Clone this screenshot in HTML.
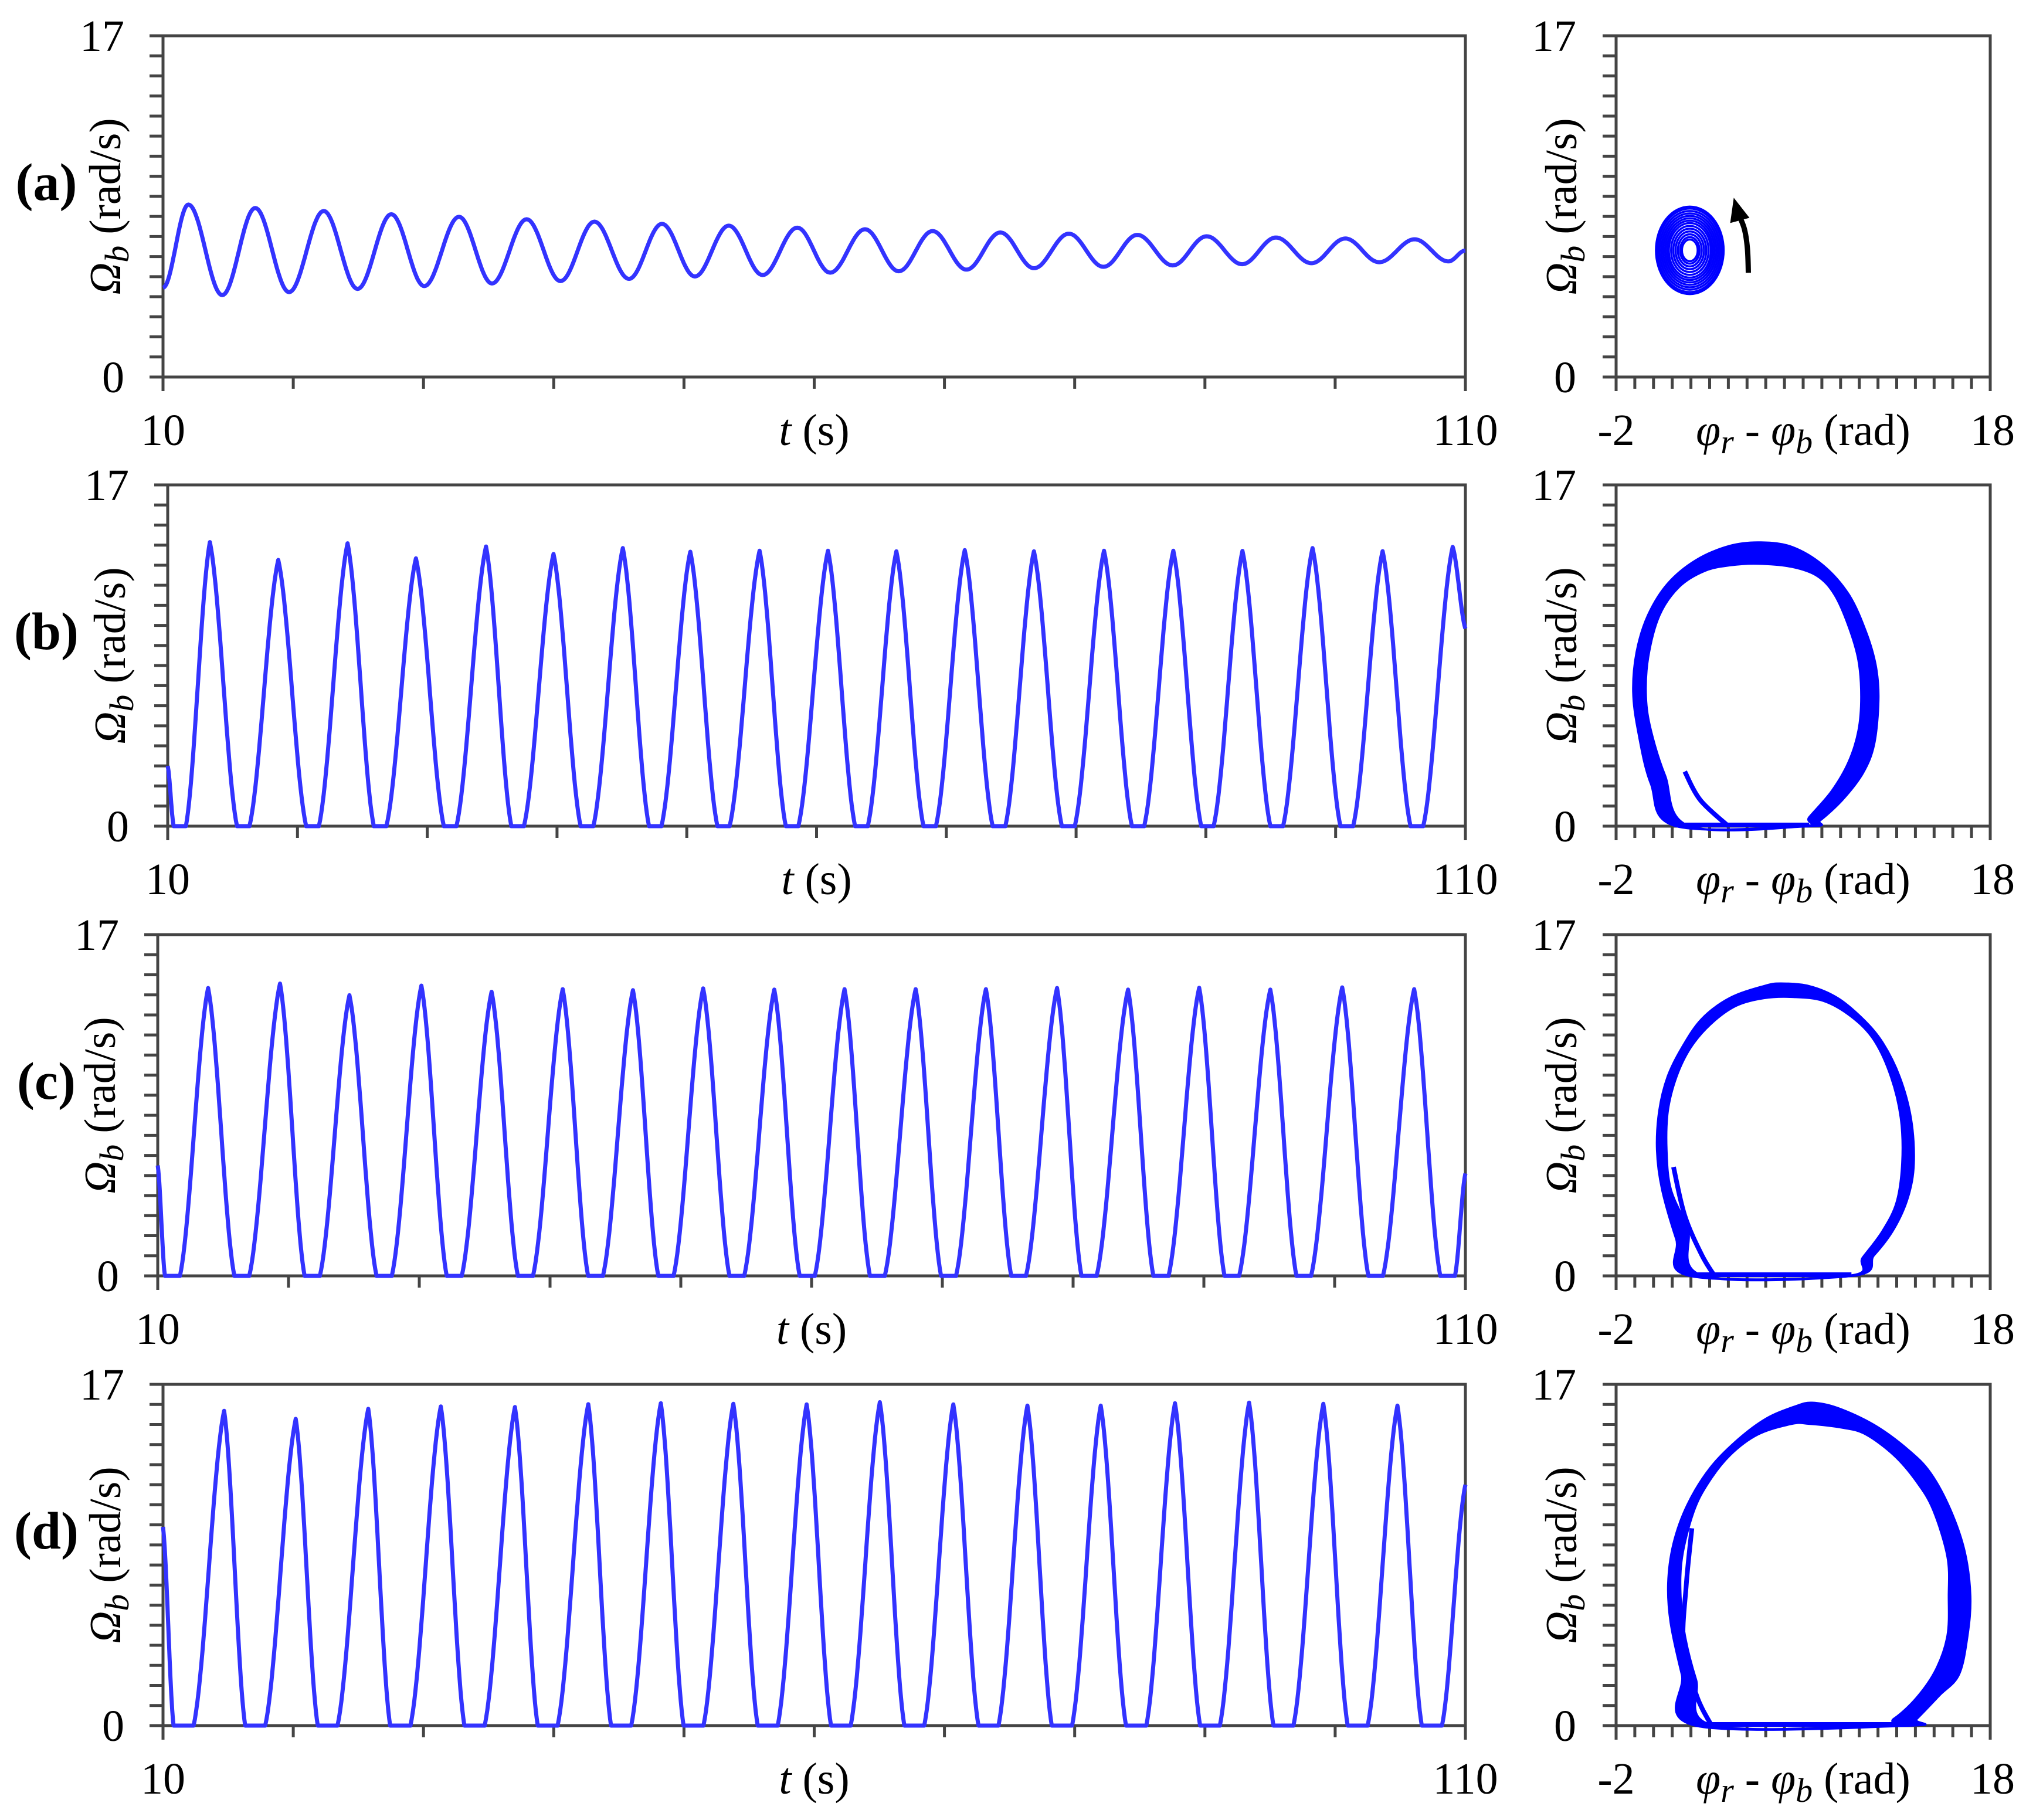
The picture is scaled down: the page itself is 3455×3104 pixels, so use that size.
<!DOCTYPE html>
<html><head><meta charset="utf-8"><style>
html,body{margin:0;padding:0;background:#fff}
svg text{font-family:"Liberation Serif","Times New Roman",serif;fill:#000}
</style></head><body>
<svg id="fig" xmlns="http://www.w3.org/2000/svg" width="3455" height="3099" viewBox="0 0 3455 3099" font-family="Liberation Serif, serif">
<rect width="3455" height="3099" fill="#fff"/>
</svg>
<script>
// ---- (a) damped oscillation ----
const aStart = 4.45, aEnd = 6.3;
const aPeakT = [11.95,17.08,22.34,27.53,32.73,37.92,43.12,48.31,53.44,58.7,63.9,69.09,74.29,79.55,84.81,90.13,95.45,100.78,106.1];
const aPeakV = [8.59,8.42,8.27,8.11,7.98,7.86,7.74,7.63,7.54,7.44,7.36,7.27,7.2,7.14,7.08,7.01,6.95,6.9,6.86];
const aTroughT = [14.55,19.68,24.94,30.06,35.26,40.52,45.78,50.84,56.04,61.23,66.49,71.69,76.88,82.21,87.53,92.86,98.18,103.38,108.7];
const aTroughV = [4.08,4.23,4.39,4.53,4.66,4.78,4.89,5.01,5.08,5.2,5.27,5.35,5.42,5.49,5.56,5.62,5.67,5.72,5.76];
// ---- (b) ----
const bStart = 3.0, bEnd = 9.84;
const bZeroStart = [10.46,15.34,20.67,25.88,31.28,36.48,41.82,47.09,52.36,57.63,62.97,68.24,73.57,78.9,84.3,89.64,94.97,100.37,105.77];
const bZeroEnd = [11.4,16.3,21.65,26.85,32.25,37.45,42.8,48.05,53.3,58.6,63.95,69.2,74.55,79.9,85.25,90.6,95.95,101.35,106.75];
const bPeakT = [13.25,18.52,23.86,29.13,34.53,39.73,45.07,50.27,55.61,60.88,66.15,71.42,76.75,82.15,87.49,92.82,98.22,103.62,109.02];
const bPeakV = [14.15,13.26,14.09,13.34,13.93,13.56,13.85,13.67,13.72,13.72,13.69,13.75,13.69,13.72,13.72,13.71,13.85,13.7,13.91];
// ---- (c) ----
const cStart = 5.5, cEnd = 5.1;
const cZeroStart = [10.55,15.86,21.23,26.73,32.1,37.54,42.91,48.28,53.72,59.09,64.46,69.9,75.27,80.64,86.14,91.58,97.08,102.58,108.08];
const cZeroEnd = [11.7,17.0,22.4,27.9,33.25,38.7,44.05,49.45,54.85,60.25,65.6,71.05,76.4,81.8,87.3,92.7,98.2,103.7,109.2];
const cPeakT = [13.85,19.35,24.66,30.16,35.53,40.97,46.34,51.71,57.15,62.52,67.96,73.33,78.77,84.2,89.64,95.08,100.58,106.08];
const cPeakV = [14.34,14.56,13.98,14.46,14.15,14.28,14.23,14.32,14.26,14.28,14.28,14.28,14.34,14.26,14.35,14.26,14.37,14.28];
// ---- (d) ----
const dStart = 9.9, dEnd = 12.0;
const dZeroStart = [10.81,16.31,21.88,27.44,33.14,38.77,44.4,49.97,55.66,61.29,66.92,72.61,78.24,83.94,89.63,95.26,100.96,106.65];
const dZeroEnd = [12.35,17.85,23.4,29.0,34.7,40.3,45.95,51.5,57.2,62.8,68.45,74.15,79.8,85.5,91.15,96.8,102.5,108.2];
const dPeakT = [14.69,20.19,25.76,31.33,37.02,42.65,48.22,53.79,59.42,65.04,70.68,76.37,82.0,87.7,93.39,99.09,104.78];
const dPeakV = [15.68,15.28,15.78,15.9,15.87,16.01,16.06,16.03,16.0,16.11,16.0,15.94,15.94,16.06,16.09,16.03,15.94];
// ---- phase portraits ----
const paCenter = [1.94, 6.31];
const paRingRx = [1.81,1.72,1.62,1.52,1.42,1.32,1.22,1.12,1.0,0.88,0.76,0.64,0.52,0.42];
const paRingRy = [2.18,2.08,1.96,1.84,1.72,1.6,1.48,1.36,1.22,1.08,0.94,0.8,0.66,0.54];
const paArrowX = [5.07,5.02,4.85,4.5];
const paArrowY = [5.19,6.4,7.4,8.2];
const paArrowTip = [4.29,8.93];
const pbOuterX = [1.22,-0.14,-0.82,-1.08,-0.9,-0.29,0.76,2.27,4.09,5.75,7.41,9.07,10.43,11.34,11.87,12.02,11.79,11.19,10.13,8.92,8.32];
const pbOuterY = [0,2.13,4.75,6.71,8.67,10.5,12.07,13.24,13.96,14.13,13.9,12.98,11.54,9.71,8.01,6.31,4.09,2.65,1.35,0.3,0];
const pbInnerX = [1.9,0.61,-0.14,-0.41,-0.29,0.31,1.37,2.73,4.09,5.6,7.41,8.77,9.68,10.43,10.96,11.11,10.96,10.43,9.53,8.32,8.02];
const pbInnerY = [0,2.52,4.75,6.44,8.41,10.5,11.93,12.72,13.0,13.08,12.92,12.46,11.54,9.97,8.27,6.44,4.75,3.18,1.74,0.43,0];
const pbTailX = [1.67,2.5,4.0];
const pbTailY = [2.72,1.3,0];
const pcOuterX = [1.97,1.22,0.46,0.19,0.31,0.76,1.52,2.58,4.09,5.9,6.81,8.32,9.83,11.19,12.24,13.15,13.76,13.91,13.6,12.85,11.79,10.58];
const pcOuterY = [0,1.83,4.31,6.27,8.22,9.92,11.36,12.79,13.84,14.43,14.56,14.43,13.84,12.79,11.62,9.92,7.83,5.61,3.92,2.35,1.04,0];
const pcInnerX = [2.65,1.82,0.92,0.69,0.76,1.22,1.97,3.03,4.39,5.9,7.41,9.07,10.58,11.79,12.7,13.23,13.3,13.0,12.24,11.19,10.43];
const pcInnerY = [0,2.35,4.31,6.27,8.22,9.92,11.36,12.53,13.45,13.84,13.9,13.71,12.92,11.75,9.92,7.83,5.61,3.66,2.22,0.91,0];
const pcTailX = [1.07,1.67,2.58,3.26];
const pcTailY = [5.42,3.0,1.04,0];
const pdOuterX = [2.27,1.52,0.92,0.79,1.07,1.82,3.03,4.54,6.05,7.56,8.47,9.83,11.79,13.6,14.81,15.87,16.63,16.93,16.78,16.32,15.27,14.06,13.6];
const pdOuterY = [0,2.54,5.14,7.1,9.05,11.0,12.83,14.26,15.3,15.89,16.08,15.82,14.97,13.74,12.57,10.74,8.66,6.45,4.49,2.54,1.5,0.33,0];
const pdInnerX = [3.18,2.27,1.67,1.44,1.52,2.12,2.88,4.09,5.6,7.41,8.32,10.13,11.34,12.85,14.06,14.96,15.72,15.79,15.72,15.11,14.06,12.85,11.94];
const pdInnerY = [0,2.28,4.49,6.45,8.4,10.61,12.04,13.48,14.52,15.04,15.04,14.84,14.52,13.48,12.17,10.74,8.4,6.45,4.49,2.8,1.37,0.33,0];
const pdTailX = [2.05,1.75,1.6,2.3,3.1];
const pdTailY = [9.83,7.0,4.0,1.5,0];

const NS = "http://www.w3.org/2000/svg";
const svg = document.getElementById('fig');
const FONT = '"Liberation Serif", "Times New Roman", serif';
function mk(tag, attrs, parent){
  const e = document.createElementNS(NS, tag);
  for (const k in attrs) e.setAttribute(k, attrs[k]);
  if (tag === 'text') e.style.fontFamily = FONT;
  (parent||svg).appendChild(e);
  return e;
}
const AX = "#444";
const FS = 76;
const rowTops = [61, 827, 1594, 2361];
const rowH = 582;
const leftX0 = [278, 286, 269, 278];
const leftX1 = 2499;
const rX0 = 2756, rX1 = 3394;
const letters = ['(a)','(b)','(c)','(d)'];

function sx(x0,x1,d0,d1){ return v => x0 + (v-d0)/(d1-d0)*(x1-x0); }

function ylabel(g, cx, cy){
  const t = mk('text', {x:0, y:0, 'font-size':FS, 'text-anchor':'middle', transform:`translate(${cx},${cy}) rotate(-90)`}, g);
  
  
  const a = mk('tspan', {'font-style':'italic'}, t); a.textContent = 'Ω';
  const b = mk('tspan', {'font-style':'italic', dy:14, 'font-size':58}, t); b.textContent = 'b';
  const c = mk('tspan', {dy:-14}, t); c.textContent = ' (rad/s)';
}

function frame(g, x0, x1, top, bot, xticks, name){
  const f = mk('rect', {x:x0, y:top, width:x1-x0, height:bot-top, fill:'none', stroke:AX, 'stroke-width':5}, g);
  
  
  mk('line', {x1:x0-23, y1:top, x2:x0, y2:top, stroke:AX, 'stroke-width':5}, g);
  mk('line', {x1:x0-23, y1:bot, x2:x0, y2:bot, stroke:AX, 'stroke-width':5}, g);
  mk('line', {x1:x0, y1:bot, x2:x0, y2:bot+24, stroke:AX, 'stroke-width':5}, g);
  mk('line', {x1:x1, y1:bot, x2:x1, y2:bot+24, stroke:AX, 'stroke-width':5}, g);
  for (let i=1;i<17;i++){
    const y = bot - i*(bot-top)/17;
    mk('line', {x1:x0-23, y1:y, x2:x0, y2:y, stroke:AX, 'stroke-width':5}, g);
  }
  xticks.forEach(x => mk('line', {x1:x, y1:bot, x2:x, y2:bot+20, stroke:AX, 'stroke-width':5}, g));
}

function textAt(g, x, y, str, anchor, name){
  const t = mk('text', {x:x, y:y, 'font-size':FS, 'text-anchor':anchor||'middle'}, g);
  
  
  t.textContent = str;
  return t;
}

function seriesKeys(start, end, zs, ze, pt, pv){
  const k = [[10,start]];
  for (let i=0;i<zs.length;i++){
    k.push([zs[i],0]); k.push([ze[i],0]);
    if (i<pt.length) k.push([pt[i],pv[i]]);
  }
  k.push([110,end]);
  return k;
}
function oscKeys(start, end, ptT, ptV, trT, trV){
  const k = [[10,start]];
  for (let i=0;i<ptT.length;i++){ k.push([ptT[i],ptV[i]]); k.push([trT[i],trV[i]]); }
  k.push([110,end]);
  return k;
}
function easePath(keys, X, Y, mix){
  let d = `M${X(keys[0][0]).toFixed(1)},${Y(keys[0][1]).toFixed(1)}`;
  for (let i=1;i<keys.length;i++){
    const [t0,v0] = keys[i-1], [t1,v1] = keys[i];
    const n = 24;
    for (let j=1;j<=n;j++){
      const u = j/n;
      const t = t0 + (t1-t0)*u;
      const e = mix*u + (1-mix)*(1-Math.cos(Math.PI*u))/2;
      const v = (v0===0 && v1===0) ? 0 : v0 + (v1-v0)*e;
      d += `L${X(t).toFixed(1)},${Y(v).toFixed(1)}`;
    }
  }
  return d;
}
function smoothClosed(xs, ys, X, Y){
  const P = xs.map((x,i)=>[X(x),Y(ys[i])]);
  const n = P.length;
  let d = `M${P[0][0].toFixed(1)},${P[0][1].toFixed(1)}`;
  for (let i=0;i<n;i++){
    const p0=P[(i-1+n)%n], p1=P[i], p2=P[(i+1)%n], p3=P[(i+2)%n];
    const c1=[p1[0]+(p2[0]-p0[0])/6, p1[1]+(p2[1]-p0[1])/6];
    const c2=[p2[0]-(p3[0]-p1[0])/6, p2[1]-(p3[1]-p1[1])/6];
    d += `C${c1[0].toFixed(1)},${c1[1].toFixed(1)} ${c2[0].toFixed(1)},${c2[1].toFixed(1)} ${p2[0].toFixed(1)},${p2[1].toFixed(1)}`;
  }
  return d + 'Z';
}
function smoothOpen(xs, ys, X, Y){
  const P = xs.map((x,i)=>[X(x),Y(ys[i])]);
  let d = `M${P[0][0].toFixed(1)},${P[0][1].toFixed(1)}`;
  for (let i=0;i<P.length-1;i++){
    const p0=P[Math.max(i-1,0)], p1=P[i], p2=P[i+1], p3=P[Math.min(i+2,P.length-1)];
    const c1=[p1[0]+(p2[0]-p0[0])/6, p1[1]+(p2[1]-p0[1])/6];
    const c2=[p2[0]-(p3[0]-p1[0])/6, p2[1]-(p3[1]-p1[1])/6];
    d += `C${c1[0].toFixed(1)},${c1[1].toFixed(1)} ${c2[0].toFixed(1)},${c2[1].toFixed(1)} ${p2[0].toFixed(1)},${p2[1].toFixed(1)}`;
  }
  return d;
}

const tsKeys = [
  oscKeys(aStart,aEnd,aPeakT,aPeakV,aTroughT,aTroughV),
  seriesKeys(bStart,bEnd,bZeroStart,bZeroEnd,bPeakT,bPeakV),
  seriesKeys(cStart,cEnd,cZeroStart,cZeroEnd,cPeakT,cPeakV),
  seriesKeys(dStart,dEnd,dZeroStart,dZeroEnd,dPeakT,dPeakV)
];
const loops = [null,
  [pbOuterX,pbOuterY,pbInnerX,pbInnerY,pbTailX,pbTailY],
  [pcOuterX,pcOuterY,pcInnerX,pcInnerY,pcTailX,pcTailY],
  [pdOuterX,pdOuterY,pdInnerX,pdInnerY,pdTailX,pdTailY]];

for (let r=0;r<4;r++){
  const top = rowTops[r], bot = top + rowH;
  const x0 = leftX0[r];
  const key = 'abcd'[r];
  const gl = mk('g', {});
  
  
  const X = sx(x0, leftX1, 10, 110), Y = sx(bot, top, 0, 17);
  const xt = []; for (let t=20;t<110;t+=10) xt.push(X(t));
  frame(gl, x0, leftX1, top, bot, xt, 'time-series-' + key);
  const p = mk('path', {d:easePath(tsKeys[r], X, Y, r===0?0:0.45), fill:'none', stroke:'#3333ff', 'stroke-width':7, 'stroke-linejoin':'round'}, gl);
  
  
  textAt(gl, x0-66, top+26, '17', 'end', 'y-tick-17');
  textAt(gl, x0-66, bot+26, '0', 'end', 'y-tick-0');
  textAt(gl, x0, bot+116, '10', 'middle', 'x-tick-10');
  textAt(gl, leftX1, bot+116, '110', 'middle', 'x-tick-110');
  const tl = textAt(gl, (x0+leftX1)/2, bot+116, '', 'middle', 'x-axis-title');
  const ti = mk('tspan', {'font-style':'italic'}, tl); ti.textContent = 't';
  const ts = mk('tspan', {}, tl); ts.textContent = ' (s)';
  ylabel(gl, x0-73, top+291);
  const lt = mk('text', {x:79, y:top+280, 'font-size':90, 'font-weight':'bold', 'text-anchor':'middle'}, gl);
  
  
  lt.textContent = letters[r];

  const gr = mk('g', {});
  
  
  const PX = sx(rX0, rX1, -2, 18);
  const rt = []; for (let v=-1; v<18; v++) rt.push(PX(v));
  frame(gr, rX0, rX1, top, bot, rt, 'phase-' + key);
  textAt(gr, rX0-68, top+26, '17', 'end', 'y-tick-17');
  textAt(gr, rX0-68, bot+26, '0', 'end', 'y-tick-0');
  textAt(gr, rX0, bot+116, '-2', 'middle', 'x-tick-minus2');
  textAt(gr, rX1+4, bot+116, '18', 'middle', 'x-tick-18');
  const xl = textAt(gr, 3075, bot+116, '', 'middle', 'x-axis-title');
  const s1 = mk('tspan', {'font-style':'italic'}, xl); s1.textContent = 'φ';
  const s2 = mk('tspan', {'font-style':'italic', dy:14, 'font-size':58}, xl); s2.textContent = 'r';
  const s3 = mk('tspan', {dy:-14}, xl); s3.textContent = ' - ';
  const s4 = mk('tspan', {'font-style':'italic'}, xl); s4.textContent = 'φ';
  const s5 = mk('tspan', {'font-style':'italic', dy:14, 'font-size':58}, xl); s5.textContent = 'b';
  const s6 = mk('tspan', {dy:-14}, xl); s6.textContent = ' (rad)';
  ylabel(gr, rX0-68, top+291);

  if (r===0){
    for (let i=0;i<paRingRx.length;i++){
      const e = mk('ellipse', {cx:PX(paCenter[0]), cy:Y(paCenter[1]), rx:paRingRx[i]*31.9, ry:paRingRy[i]*rowH/17, fill:'none', stroke:'#0000ff', 'stroke-width':3.5}, gr);
      
      
    }
    const ar = mk('path', {d:smoothOpen(paArrowX, paArrowY, PX, Y), fill:'none', stroke:'#000', 'stroke-width':9}, gr);
    
    
    const tx = PX(paArrowTip[0]), ty = Y(paArrowTip[1]);
    const bx = PX(paArrowX[3]), by = Y(paArrowY[3]);
    const ang = Math.atan2(ty-by, tx-bx), L = 40, W = 17;
    const hx = tx - L*Math.cos(ang), hy = ty - L*Math.sin(ang);
    const ah = mk('polygon', {points:`${tx},${ty} ${hx+W*Math.sin(ang)},${hy-W*Math.cos(ang)} ${hx-W*Math.sin(ang)},${hy+W*Math.cos(ang)}`, fill:'#000'}, gr);
    
    
  } else {
    const [ox,oy,ix,iy,tx,ty] = loops[r];
    const band = mk('path', {d:smoothClosed(ox,oy,PX,Y) + smoothClosed(ix,iy,PX,Y), fill:'#0000ff', 'fill-rule':'evenodd', stroke:'#0000ff', 'stroke-width':4}, gr);
    
    
    const base = mk('line', {x1:PX(ox[0]), y1:Y(0)-2, x2:PX(ox[ox.length-1]), y2:Y(0)-2, stroke:'#0000ff', 'stroke-width':8}, gr);
    
    
    const tail = mk('path', {d:smoothOpen(tx,ty,PX,Y), fill:'none', stroke:'#0000ff', 'stroke-width':8}, gr);
    
    
  }
}
</script>
</body></html>
